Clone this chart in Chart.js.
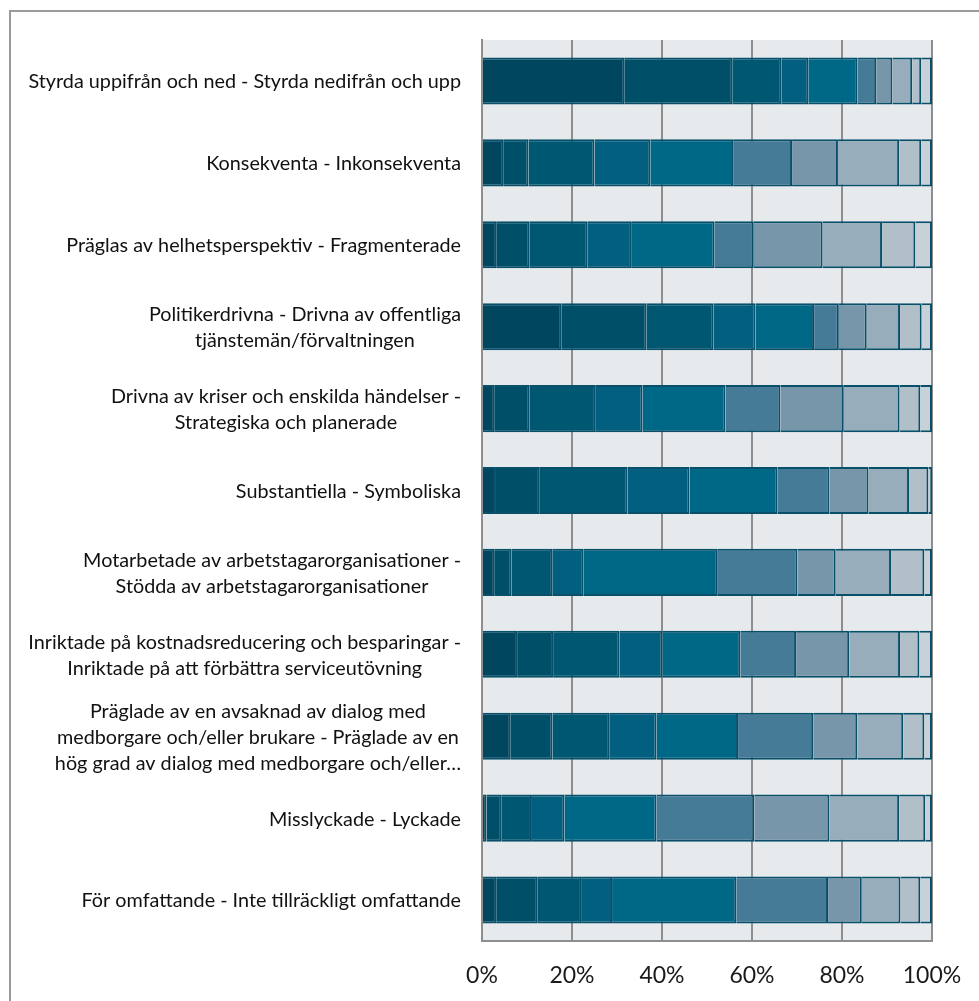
<!DOCTYPE html>
<html>
<head>
<meta charset="utf-8">
<script src="https://cdn.jsdelivr.net/npm/chart.js@4/dist/chart.umd.min.js"></script>
<style>
  body { margin: 0; background: #fff; overflow: hidden; }
  #ram { position: absolute; left: 9px; top: 10px; width: 1100px; height: 1100px; border: 2px solid #9a9a9a; }
  #wrap { position: absolute; left: 0; top: 0; width: 979px; height: 1001px; }
</style>
</head>
<body>
<div id="ram"></div>
<div id="wrap"><canvas id="graf" width="979" height="1001"></canvas></div>
<script>
// kategorier (y-axeln), flerradiga etiketter som arrayer
const kategorier = [
  'Styrda uppifrån och ned - Styrda nedifrån och upp',
  'Konsekventa - Inkonsekventa',
  'Präglas av helhetsperspektiv - Fragmenterade',
  ['Politikerdrivna - Drivna av offentliga', 'tjänstemän/förvaltningen'],
  ['Drivna av kriser och enskilda händelser -', 'Strategiska och planerade'],
  'Substantiella - Symboliska',
  ['Motarbetade av arbetstagarorganisationer -', 'Stödda av arbetstagarorganisationer'],
  ['Inriktade på kostnadsreducering och besparingar -', 'Inriktade på att förbättra serviceutövning'],
  ['Präglade av en avsaknad av dialog med', 'medborgare och/eller brukare - Präglade av en', 'hög grad av dialog med medborgare och/eller…'],
  'Misslyckade - Lyckade',
  'För omfattande - Inte tillräckligt omfattande'
];

// andel svar (%) per skalsteg 1-10
const steg1  = [31.6, 4.7, 3.3, 17.6, 2.7, 3.1, 2.7, 7.8, 6.4, 1.0, 3.3];
const steg2  = [24.0, 5.6, 7.2, 19.0, 7.8, 9.6, 3.9, 8.0, 9.3, 3.4, 9.1];
const steg3  = [10.9, 14.7, 13.0, 14.8, 14.8, 19.6, 9.0, 14.8, 12.7, 6.7, 9.8];
const steg4  = [6.0, 12.4, 9.8, 9.4, 10.4, 13.8, 6.9, 9.5, 10.4, 7.2, 6.7];
const steg5  = [10.9, 18.4, 18.4, 13.0, 18.4, 19.6, 29.9, 17.3, 18.1, 20.5, 27.6];
const steg6  = [4.2, 13.1, 8.7, 5.5, 12.2, 11.5, 17.7, 12.4, 16.7, 21.7, 20.4];
const steg7  = [3.6, 10.2, 15.3, 6.2, 14.1, 8.7, 8.5, 11.8, 9.8, 16.7, 7.5];
const steg8  = [4.4, 13.6, 13.2, 7.4, 12.4, 9.0, 12.3, 11.3, 10.2, 15.5, 8.6];
const steg9  = [2.0, 4.9, 7.4, 4.8, 4.6, 4.3, 7.4, 4.3, 4.7, 5.8, 4.4];
const steg10 = [2.4, 2.4, 3.7, 2.3, 2.6, 0.8, 1.7, 2.8, 1.7, 1.5, 2.6];

const serier = [steg1, steg2, steg3, steg4, steg5, steg6, steg7, steg8, steg9, steg10];
const farger = ['#00465e', '#004f69', '#005772', '#025f7f', '#006887',
                '#467b97', '#7896aa', '#97adbb', '#b1bfc8', '#c7d1d8'];

// x-axelns steg
const xSteg = 20;
const xMax = 100;

// grå bakgrund i ritytan
const bakgrund = {
  id: 'bakgrund',
  beforeDraw(chart) {
    const {ctx, chartArea: a} = chart;
    ctx.save();
    ctx.fillStyle = '#e6eaed';
    ctx.fillRect(a.left, a.top, a.right - a.left, a.bottom - a.top);
    ctx.restore();
  }
};

// y-etiketter: högerställt block, raderna centrerade inom blocket
const etiketter = {
  id: 'etiketter',
  afterDraw(chart) {
    const {ctx, scales: {y}} = chart;
    const radH = 26;
    ctx.save();
    ctx.font = '19.8px Lato';
    ctx.fillStyle = '#111';
    ctx.textAlign = 'center';
    ctx.textBaseline = 'middle';
    kategorier.forEach((lab, i) => {
      const rader = Array.isArray(lab) ? lab : [lab];
      const w = Math.max(...rader.map(r => ctx.measureText(r).width));
      const cx = y.right - 21 - w / 2;
      const cy = y.getPixelForTick(i) + 1;
      rader.forEach((r, j) => ctx.fillText(r, cx, cy + (j - (rader.length - 1) / 2) * radH));
    });
    ctx.restore();
  }
};

new Chart(document.getElementById('graf'), {
  type: 'bar',
  data: {
    labels: kategorier,
    datasets: serier.map((d, i) => ({
      label: String(i + 1),
      data: d,
      backgroundColor: farger[i],
      borderColor: '#08506a',
      borderWidth: 2,
      categoryPercentage: 1,
      barPercentage: 0.575
    }))
  },
  options: {
    indexAxis: 'y',
    responsive: false,
    animation: false,
    layout: { padding: { top: 40, right: 47, left: 0, bottom: 0 } },
    plugins: { legend: { display: false }, tooltip: { enabled: false } },
    scales: {
      x: {
        stacked: true,
        min: 0,
        max: xMax,
        afterFit(s) { s.height = 60; s.paddingLeft = 0; s.paddingRight = 0; },
        grid: { color: '#8e8e8e', lineWidth: 2, drawTicks: false },
        border: { display: true, color: '#8e8e8e', width: 2 },
        ticks: {
          stepSize: xSteg,
          padding: 21,
          color: '#1a1a1a',
          font: { family: 'Lato', size: 23 },
          callback: v => v + '%'
        }
      },
      y: {
        stacked: true,
        afterFit(s) { s.width = 482; },
        grid: { display: false },
        border: { display: true, color: '#8e8e8e', width: 2 },
        ticks: { display: false }
      }
    }
  },
  plugins: [bakgrund, etiketter]
});
</script>
</body>
</html>
